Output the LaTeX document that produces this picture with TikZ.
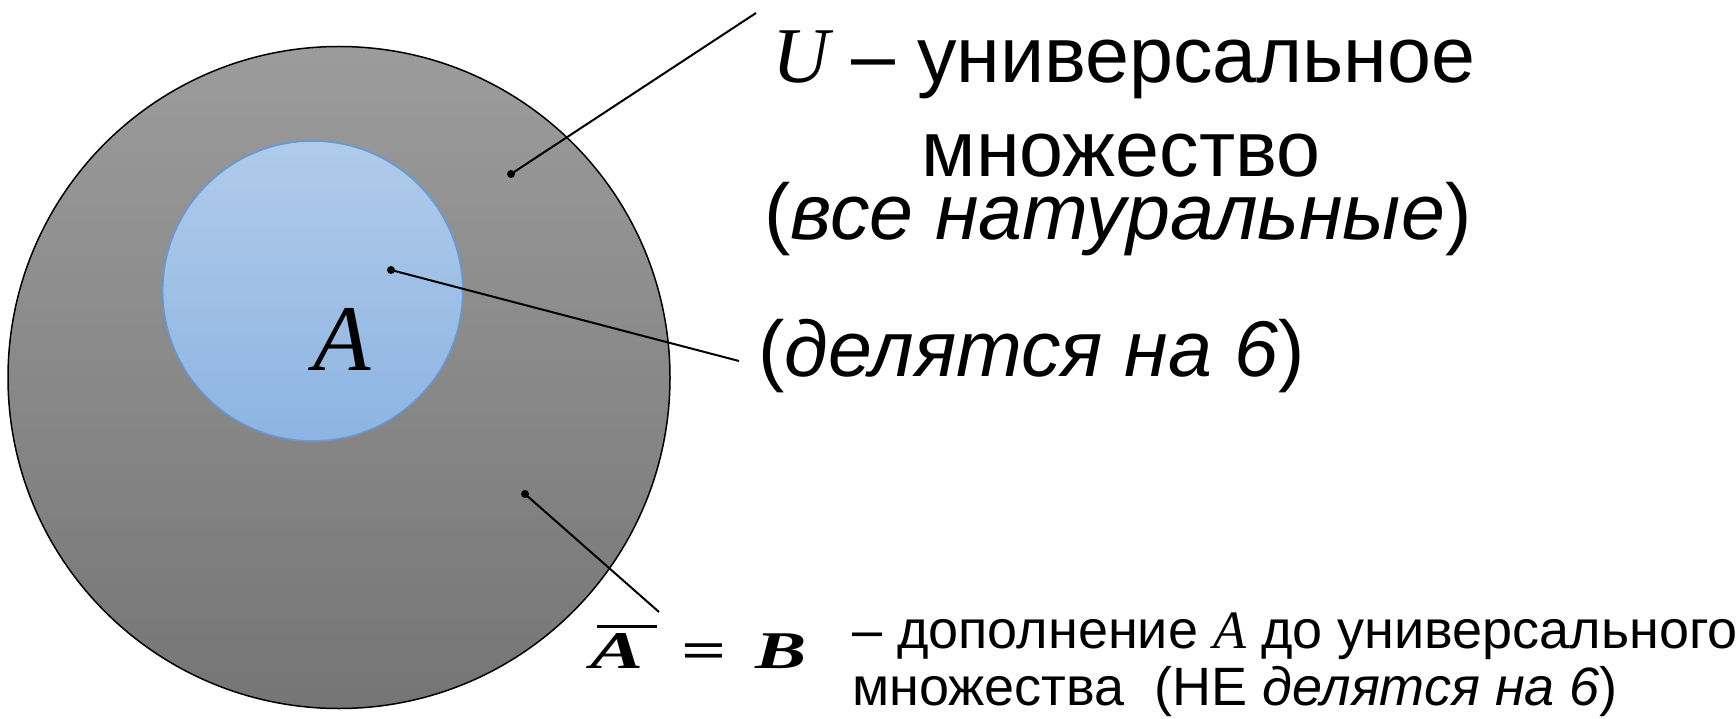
\documentclass[tikz,border=0pt]{standalone}
\usepackage{fontspec}
\setmainfont{Liberation Sans}
\newfontfamily\tms{Liberation Serif}
\begin{document}
\begin{tikzpicture}[x=1pt,y=-1pt,
  dotmark/.style={circle,fill=black,inner sep=0pt,minimum size=8pt},
  lead/.style={line width=2pt,black},
  big/.style={inner sep=0pt,font=\fontsize{79}{90}\selectfont},
  small/.style={inner sep=0pt,font=\fontsize{54}{64}\selectfont},
  eqn/.style={inner sep=0pt,anchor=base west,font=\fontsize{53}{56}\selectfont\tms\bfseries}]
\useasboundingbox (0,0) rectangle (1736,719);
% universal set
\shade[top color=gray!78!white,bottom color=gray!92!black,draw=black,line width=1.5pt]
  (339,377.5) circle[radius=331];
% set A
\shade[top color={rgb,255:red,176;green,203;blue,234},bottom color={rgb,255:red,141;green,180;blue,226},draw={rgb,255:red,100;green,155;blue,215},line width=1.5pt]
  (312.7,291) circle[radius=150];
\node[inner sep=0pt,anchor=base] (lblA) at (342,370) {\fontsize{94}{100}\selectfont\tms\itshape A};
% dots
\node[dotmark] (dU) at (511,174) {};
\node[dotmark] (dA) at (391,270) {};
\node[dotmark] (dB) at (525,494) {};
\coordinate (eU) at (756,13);
\coordinate (eA) at (739,361);
\coordinate (eB) at (659,612);
\draw[lead] (dU.center) -- (eU);
\draw[lead] (dA.center) -- (eA);
\draw[lead] (dB.center) -- (eB);
% texts
\node[big,anchor=base west] (tU) at (772,83) {{\tms\itshape U} – универсальное};
\node[big,anchor=base] (tU2) at (1121,177) {множество};
\node[big,anchor=base west] (tU3) at (764,240) {(\textit{все натуральные})};
\node[big,anchor=base west] (tA) at (758,376) {(\textit{делятся на 6})};
% complement
\node[eqn] (bA) at (590,668) {\scalebox{1.5}[1]{\itshape A}};
\node[eqn] (bEq) at (681,668) {\scalebox{1.5}[1]{=}};
\node[eqn] (bB) at (755,668) {\scalebox{1.45}[1]{\itshape B}};
\coordinate (ovL) at (597,626);
\coordinate (ovR) at (657,626);
\draw[line width=3pt] (ovL) -- (ovR);
\node[small,anchor=base west] (tB1) at (852,648) {– дополнение {\tms\itshape A} до универсального};
\node[small,anchor=base west] (tB2) at (852,705) {множества\ \ (НЕ \textit{делятся на 6})};
\end{tikzpicture}
\end{document}
